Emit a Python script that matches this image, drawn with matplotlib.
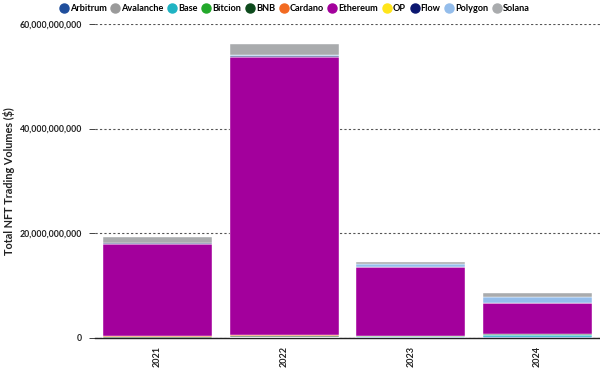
import matplotlib
matplotlib.use("Agg")
import matplotlib.pyplot as plt
from matplotlib.ticker import FuncFormatter
from matplotlib.lines import Line2D
import numpy as np

years = ["2021", "2022", "2023", "2024"]
chains = ["Arbitrum", "Avalanche", "Base", "Bitcion", "BNB", "Cardano",
          "Ethereum", "OP", "Flow", "Polygon", "Solana"]
colors = ["#1f4e9c", "#9a9a9a", "#1fb3c3", "#22a82a", "#0d4a1c", "#f26a21",
          "#a3009c", "#ffe51a", "#0b1770", "#94bdeb", "#a9abad"]

# values in billions of dollars
arbitrum = [0.0, 0.05, 0.1, 0.1]
avalanche = [0.05, 0.1, 0.05, 0.05]
base = [0.0, 0.0, 0.05, 0.4]
bitcoin = [0.0, 0.0, 0.1, 0.1]
bnb = [0.1, 0.2, 0.05, 0.05]
cardano = [0.2, 0.3, 0.05, 0.02]
ethereum = [17.6, 53.0, 13.1, 5.9]
op = [0.0, 0.02, 0.05, 0.02]
flow = [0.1, 0.1, 0.02, 0.01]
polygon = [0.1, 0.2, 0.5, 1.15]
solana = [1.05, 2.1, 0.5, 0.75]

series = [arbitrum, avalanche, base, bitcoin, bnb, cardano,
          ethereum, op, flow, polygon, solana]

plt.rcParams['font.family'] = ['Lato', 'DejaVu Sans']

fig = plt.figure(figsize=(6, 3.78), dpi=100)
ax = fig.add_axes([0.158, 0.106, 0.842, 0.831])

x = np.arange(len(years))
bottom = np.zeros(len(years))
for name, vals, c in zip(chains, series, colors):
    v = np.array(vals) * 1e9
    ax.bar(x, v, bottom=bottom, width=0.86, color=c, edgecolor='white',
           linewidth=0.3, label=name, zorder=3)
    bottom += v

ax.set_ylim(0, 60e9)
ax.set_xlim(-0.493, 3.493)
ax.set_yticks([0, 20e9, 40e9, 60e9])
ax.yaxis.set_major_formatter(FuncFormatter(lambda v, p: f"{int(v):,}"))
ax.set_xticks(x)
ax.set_xticklabels(years, rotation=90, fontsize=6.5, fontweight='bold', color='#222222')
ax.tick_params(axis='y', labelsize=6.3, colors='#222222', length=4, width=0.6, pad=5)
ax.tick_params(axis='x', length=0, pad=6)
for lab in ax.get_yticklabels():
    lab.set_fontweight('bold')

ax.grid(axis='y', linestyle=(0, (2, 2)), color='#555555', linewidth=0.8, zorder=0)
for s in ['top', 'right', 'left']:
    ax.spines[s].set_visible(False)
ax.spines['bottom'].set_color('#222222')
ax.spines['bottom'].set_linewidth(1.0)

ax.set_ylabel("Total NFT Trading Volumes ($)", fontsize=7.8, fontweight='bold',
              color='#222222')
ax.yaxis.set_label_coords(-0.158, 0.5)

handles = [Line2D([0], [0], marker='o', linestyle='', markersize=6.5,
                  markerfacecolor=c, markeredgecolor=c) for c in colors]
fig.legend(handles, chains, loc='upper center', bbox_to_anchor=(0.49, 1.01),
           ncol=11, frameon=False, handletextpad=0.05, handlelength=1.2,
           columnspacing=0.35, prop={'weight': 'bold', 'size': 6.6})

fig.savefig("out.png", dpi=100)
